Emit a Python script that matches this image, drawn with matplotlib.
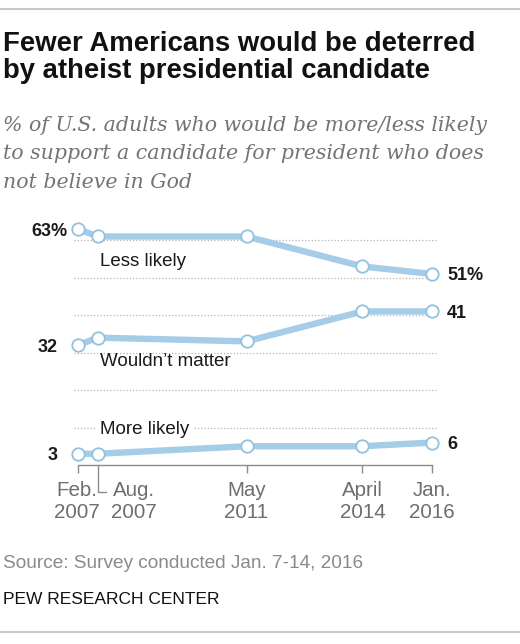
import matplotlib
matplotlib.use("Agg")
import matplotlib.pyplot as plt
import matplotlib.dates as mdates
from matplotlib.lines import Line2D
import pandas as pd

# ---- data ----
dates = ["2007-02-01", "2007-08-01", "2011-05-01", "2014-04-01", "2016-01-01"]
tick_labels = ["Feb.\n2007", "Aug.\n2007", "May\n2011", "April\n2014", "Jan.\n2016"]
less_likely = [63, 61, 61, 53, 51]
wouldnt_matter = [32, 34, 33, 41, 41]
more_likely = [3, 3, 5, 5, 6]
series_names = ["Less likely", "Wouldn\u2019t matter", "More likely"]
gridvals = [10, 20, 30, 40, 50, 60]

title = "Fewer Americans would be deterred\nby atheist presidential candidate"
subtitle = ("% of U.S. adults who would be more/less likely\n"
            "to support a candidate for president who does\n"
            "not believe in God")
source = "Source: Survey conducted Jan. 7-14, 2016"
org = "PEW RESEARCH CENTER"

W, H = 520, 644
fig = plt.figure(figsize=(W / 100, H / 100), dpi=100)
fig.patch.set_facecolor("white")

SANS = ["Liberation Sans", "DejaVu Sans"]


def px(x, y):
    return x / W, 1 - y / H


x = mdates.date2num(pd.to_datetime(dates))

# axes placement: first date at px 78, last at px 432; y=0 at px 465, y=63 at px 229
x0p, x1p = 78, 432
y0p, y63p = 465, 229
ax = fig.add_axes([x0p / W, 1 - y0p / H, (x1p - x0p) / W, (y0p - y63p) / H])
ax.set_xlim(x[0], x[-1])
ax.set_ylim(0, 63)
ax.set_facecolor("none")
for s in ["top", "right", "left"]:
    ax.spines[s].set_visible(False)
ax.spines["bottom"].set_color("#8c8c8c")
ax.spines["bottom"].set_linewidth(1.0)
ax.set_yticks([])

# gridlines
for g in gridvals:
    ax.axhline(g, xmin=-0.01, xmax=1.01, color="#b5b5b5", lw=0.9,
               linestyle=(0, (1, 1.6)), zorder=1, clip_on=False)

line_color = "#a5cde8"
edge_color = "#93c1e0"
for vals in [less_likely, wouldnt_matter, more_likely]:
    ax.plot(x, vals, color=line_color, lw=4.6, solid_capstyle="round",
            solid_joinstyle="round", zorder=3, clip_on=False)
    ax.plot(x, vals, linestyle="none", marker="o", ms=9, mfc="white",
            mec=edge_color, mew=1.3, zorder=4, clip_on=False)

# ticks (all but Aug. 2007 are simple)
ax.set_xticks([x[i] for i in [0, 2, 3, 4]])
ax.set_xticklabels([])
ax.tick_params(axis="x", direction="out", length=6, width=1.0, color="#8c8c8c")

# special Aug 2007 tick with elbow
pA = ax.transData.transform((x[1], 0))
elbow = Line2D([pA[0], pA[0], pA[0] + 8], [H - 465, H - 492, H - 492],
               transform=None, color="#8c8c8c", lw=1.0)
fig.add_artist(elbow)

# tick labels
label_offsets = [-1, 36, 0, 0, 0]
for xi, lab, dx in zip(x, tick_labels, label_offsets):
    p = ax.transData.transform((xi, 0))
    fig.text((p[0] + dx) / W, (H - 481) / H, lab, ha="center", va="top",
             fontsize=14.8, color="#6e6e6e", family=SANS, linespacing=1.22)

# value labels
lab_font = dict(fontsize=13, fontweight="bold", color="#1a1a1a", family=SANS)
firsts = [less_likely[0], wouldnt_matter[0], more_likely[0]]
lasts = [less_likely[-1], wouldnt_matter[-1], more_likely[-1]]
for i, (v0, v1) in enumerate(zip(firsts, lasts)):
    p0 = ax.transData.transform((x[0], v0))
    p1 = ax.transData.transform((x[-1], v1))
    dx = -11 if i == 0 else -20
    fig.text((p0[0] + dx) / W, (p0[1]) / H, f"{v0}" + ("%" if i == 0 else ""),
             ha="right", va="center_baseline", **lab_font)
    fig.text((p1[0] + 15) / W, (p1[1]) / H, f"{v1}" + ("%" if i == 0 else ""),
             ha="left", va="center_baseline", **lab_font)

# series labels
name_pos = [(100, 261), (100, 362), (100, 430)]
for name, (lx, ly) in zip(series_names, name_pos):
    kw = {}
    if name == "More likely":
        kw["bbox"] = dict(boxstyle="square,pad=0.25", fc="white", ec="none")
    fig.text(lx / W, 1 - ly / H, name, ha="left", va="center", fontsize=13.5,
             color="#1a1a1a", family=SANS, zorder=5, **kw)

# title etc.
fig.text(*px(3, 31), title, ha="left", va="top", fontsize=19.8,
         fontweight="bold", color="#111111", family=SANS, linespacing=1.05)
fig.text(*px(3, 116), subtitle, ha="left", va="top", fontsize=14.8,
         style="italic", color="#747474", family=["DejaVu Serif"], linespacing=1.62)
fig.text(*px(3, 563), source, ha="left", va="center", fontsize=13.7,
         color="#8a8a8a", family=SANS)
fig.text(*px(3, 600), org, ha="left", va="center", fontsize=12.5,
         color="#111111", family=SANS)

# rules top and bottom
fig.add_artist(Line2D([0, 1], [1 - 9 / H, 1 - 9 / H], transform=fig.transFigure,
                      color="#c8c8c8", lw=1.5))
fig.add_artist(Line2D([0, 1], [1 - 632 / H, 1 - 632 / H], transform=fig.transFigure,
                      color="#c8c8c8", lw=1.5))

fig.savefig("out.png", dpi=100, facecolor="white")
